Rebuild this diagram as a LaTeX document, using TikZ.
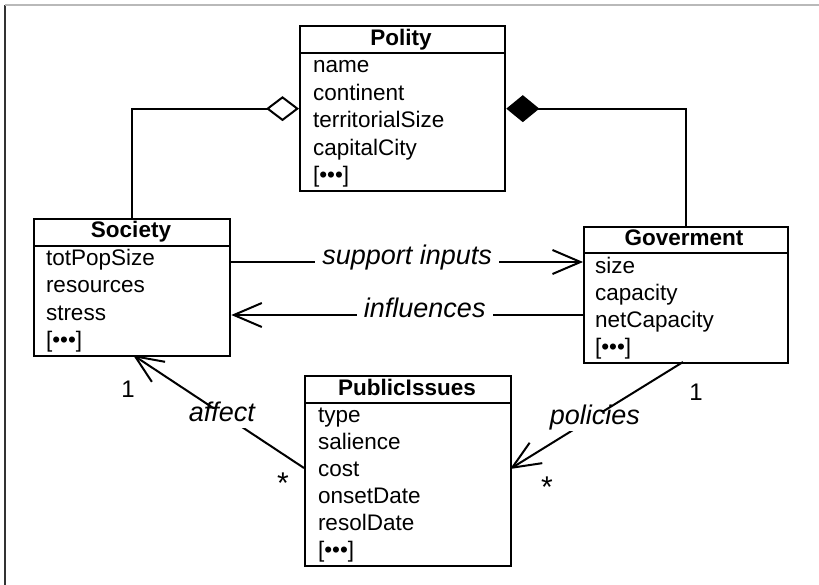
\documentclass[tikz,border=0pt]{standalone}
\usepackage{fontspec}
\setmainfont{Liberation Sans}
\usetikzlibrary{arrows.meta,calc}
\begin{document}
\begin{tikzpicture}[x=1pt,y=-1pt, line width=2pt,
  cls/.style={draw, line width=2.3pt, inner sep=0pt, anchor=north west},
  sep/.style={line width=2.3pt},
  ctitle/.style={font=\fontsize{22.5}{26}\selectfont\bfseries, anchor=base, inner sep=0pt},
  attr/.style={font=\fontsize{22.5}{27}\selectfont, anchor=base west, inner sep=0pt},
  lbl/.style={font=\fontsize{27}{31}\selectfont\itshape, fill=white, text height=0.72em, text depth=0.21em, inner xsep=7pt, inner ysep=3pt},
  mult/.style={font=\fontsize{24}{28}\selectfont, anchor=base, inner sep=0pt},
  star/.style={font=\fontsize{30}{34}\selectfont, anchor=base, inner sep=0pt},
  assoc/.style={line width=2pt, -{Straight Barb[length=28pt,width=24pt,line width=2pt]}},
  aggr/.style={line width=2pt, -{Diamond[open,length=33pt,width=25pt,line width=2pt]}},
  compo/.style={line width=2pt, -{Diamond[length=33pt,width=27pt]}}
]
\useasboundingbox (0,0) rectangle (819,585);
\fill[white] (0,0) rectangle (819,585);
% frame
\draw[black!80, line width=1.5pt] (5,585) -- (5,5);
\draw[gray!55, line width=1.5pt] (5,5) -- (819,5);

% Polity
\node[cls, minimum width=205pt, minimum height=165pt] (polity) at (299,25) {};
\draw[sep] (299,53) -- (504,53);
\node[ctitle] (politytitle) at (401,46) {Polity};
\foreach \t [count=\i from 0] in {name,continent,territorialSize,capitalCity,{[•••]}}
  \node[attr] (pol\i) at (312,73+27.5*\i) {\t};

% Society
\node[cls, minimum width=196pt, minimum height=137pt] (society) at (33,218) {};
\draw[sep] (33,246) -- (229,246);
\node[ctitle] (societytitle) at (131,238) {Society};
\foreach \t [count=\i from 0] in {totPopSize,resources,stress,{[•••]}}
  \node[attr] (soc\i) at (45,266+27*\i) {\t};

% Goverment
\node[cls, minimum width=204pt, minimum height=136pt] (gov) at (583,226) {};
\draw[sep] (583,253) -- (787,253);
\node[ctitle] (govtitle) at (684,246) {Goverment};
\foreach \t [count=\i from 0] in {size,capacity,netCapacity,{[•••]}}
  \node[attr] (gov\i) at (594,273+27.3*\i) {\t};

% PublicIssues
\node[cls, minimum width=206pt, minimum height=190pt] (pi) at (304,375) {};
\draw[sep] (304,403) -- (510,403);
\node[ctitle] (pititle) at (407,395) {PublicIssues};
\foreach \t [count=\i from 0] in {type,salience,cost,onsetDate,resolDate,{[•••]}}
  \node[attr] (pia\i) at (317,422+27*\i) {\t};

% aggregation / composition
\draw[aggr] (society.north) |- (polity.west);
\draw[compo] (gov.north) |- (polity.east);

% associations
\coordinate (supc) at (406,262);
\coordinate (infc) at (406,315);
\draw[assoc] (society.east |- supc) -- node[lbl]{support inputs} (gov.west |- supc);
\draw[assoc] (gov.west |- infc) -- node[lbl,pos=0.45]{influences} (society.east |- infc);

\coordinate (piaffect) at (304,468);
\coordinate (socbot) at (133,355);
\draw[assoc] (piaffect) -- node[lbl,pos=0.48,inner xsep=6pt,inner ysep=5pt,yshift=-5pt]{affect} (socbot);
\coordinate (govbot) at (683,362);
\coordinate (pipol) at (510,469);
\draw[assoc] (govbot) -- node[lbl,pos=0.51,inner xsep=6pt,inner ysep=5pt,yshift=-5pt]{policies} (pipol);

% multiplicities
\node[mult] (m1) at (128,397) {1};
\node[star] (m2) at (283,493) {*};
\node[mult] (m3) at (696,400) {1};
\node[star] (m4) at (547,497) {*};
\end{tikzpicture}
\end{document}
